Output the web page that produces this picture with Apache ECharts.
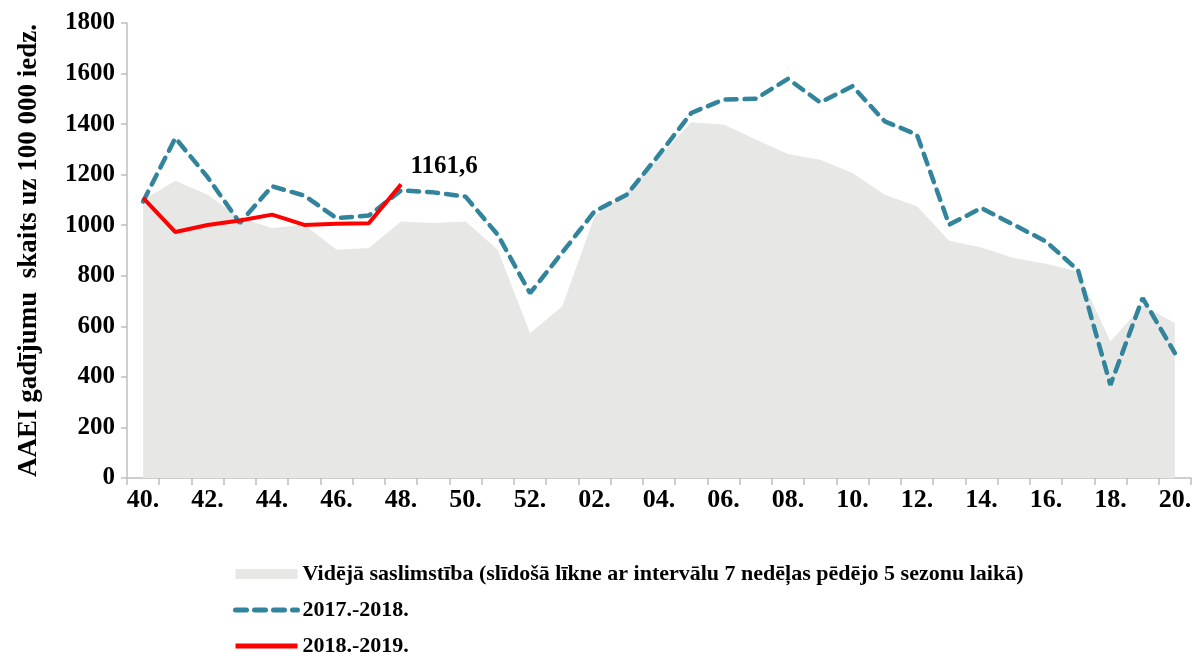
<!DOCTYPE html>
<html>
<head>
<meta charset="utf-8">
<script src="https://cdn.jsdelivr.net/npm/echarts@6/dist/echarts.min.js"></script>
<style>
html,body{margin:0;padding:0;background:#fff;}
#chart{width:1196px;height:652px;}
</style>
</head>
<body>
<div id="chart"></div>
<script>
var weeks = ['40.','41.','42.','43.','44.','45.','46.','47.','48.','49.','50.','51.','52.',
  '01.','02.','03.','04.','05.','06.','07.','08.','09.','10.','11.','12.','13.','14.','15.','16.','17.','18.','19.','20.'];
var average = [1100,1176,1121,1030,989,1002,903,910,1015,1009,1015,903,573,
  679,1035,1130,1270,1407,1398,1339,1282,1259,1207,1121,1075,939,912,870,848,817,540,683,613];
var season1718 = [1094,1345,1190,1009,1154,1117,1028,1038,1138,1130,1113,962,731,
  892,1055,1121,1279,1444,1497,1500,1579,1486,1550,1411,1358,1002,1068,1002,936,821,368,712,494];
var season1819 = [1108,973,1001,1019,1042,1001,1006,1008,1161.6];

var nameAvg = 'Vidējā saslimstība (slīdošā līkne ar intervālu 7 nedēļas pēdējo 5 sezonu laikā)';
var name1718 = '2017.-2018.';
var name1819 = '2018.-2019.';
var serif = '"Liberation Serif","Times New Roman",serif';

var redData = season1819.map(function(v, i){
  if (i === season1819.length - 1) {
    return {value: v, label: {show: true, formatter: function(p){ return String(p.value).replace('.', ','); }}};
  }
  return v;
});

var chart = echarts.init(document.getElementById('chart'), null, {renderer: 'canvas'});
chart.setOption({
  animation: false,
  backgroundColor: '#ffffff',
  grid: {left: 127, right: 5, top: 23, bottom: 174, containLabel: false},
  legend: {
    orient: 'vertical', left: 228, top: 558, height: 120, itemGap: 14, itemWidth: 62, itemHeight: 10,
    textStyle: {fontFamily: serif, fontWeight: 'bold', fontSize: 22, color: '#000'},
    data: [
      {name: nameAvg, icon: 'rect', itemStyle: {color: '#e7e7e5'}},
      {name: name1718, itemStyle: {opacity: 0}, lineStyle: {width: 5}},
      {name: name1819, itemStyle: {opacity: 0}, lineStyle: {width: 5}}
    ]
  },
  xAxis: {
    type: 'category', data: weeks, boundaryGap: true,
    axisLine: {lineStyle: {color: '#bfbfbf', width: 1.5}},
    axisTick: {show: true, interval: 0, length: 7, lineStyle: {color: '#bfbfbf', width: 1.5}},
    axisLabel: {interval: 1, margin: 9, fontFamily: serif, fontWeight: 'bold', fontSize: 26, color: '#000'},
    splitLine: {show: false}
  },
  yAxis: {
    type: 'value', min: 0, max: 1800, interval: 200,
    name: 'AAEI gadījumu  skaits uz 100 000 iedz.', nameLocation: 'middle', nameGap: 84, nameRotate: 90,
    nameTextStyle: {fontFamily: serif, fontWeight: 'bold', fontSize: 27, color: '#000'},
    axisLine: {show: true, lineStyle: {color: '#bfbfbf', width: 1.5}},
    axisTick: {show: true, length: 6, lineStyle: {color: '#bfbfbf', width: 1.5}},
    axisLabel: {margin: 12, fontFamily: serif, fontWeight: 'bold', fontSize: 25, color: '#000',
      formatter: function(v){ return String(v); }},
    splitLine: {show: false}
  },
  series: [
    {
      name: nameAvg, type: 'line', data: average, symbol: 'none',
      lineStyle: {width: 0, color: '#e7e7e5'}, itemStyle: {color: '#e7e7e5'},
      areaStyle: {color: '#e7e7e6', opacity: 1}, z: 1
    },
    {
      name: name1718, type: 'line', data: season1718, symbol: 'none',
      lineStyle: {width: 4.5, color: '#31849b', type: [11, 8], cap: 'round'},
      itemStyle: {color: '#31849b'}, z: 2
    },
    {
      name: name1819, type: 'line', data: redData, symbol: 'circle', symbolSize: 0, showSymbol: true,
      lineStyle: {width: 4, color: '#ff0000'}, itemStyle: {color: '#ff0000'},
      label: {show: false, position: 'top', distance: 5, offset: [43, 0], fontFamily: serif, fontWeight: 'bold', fontSize: 25, color: '#000'},
      z: 3
    }
  ]
});
</script>
</body>
</html>
